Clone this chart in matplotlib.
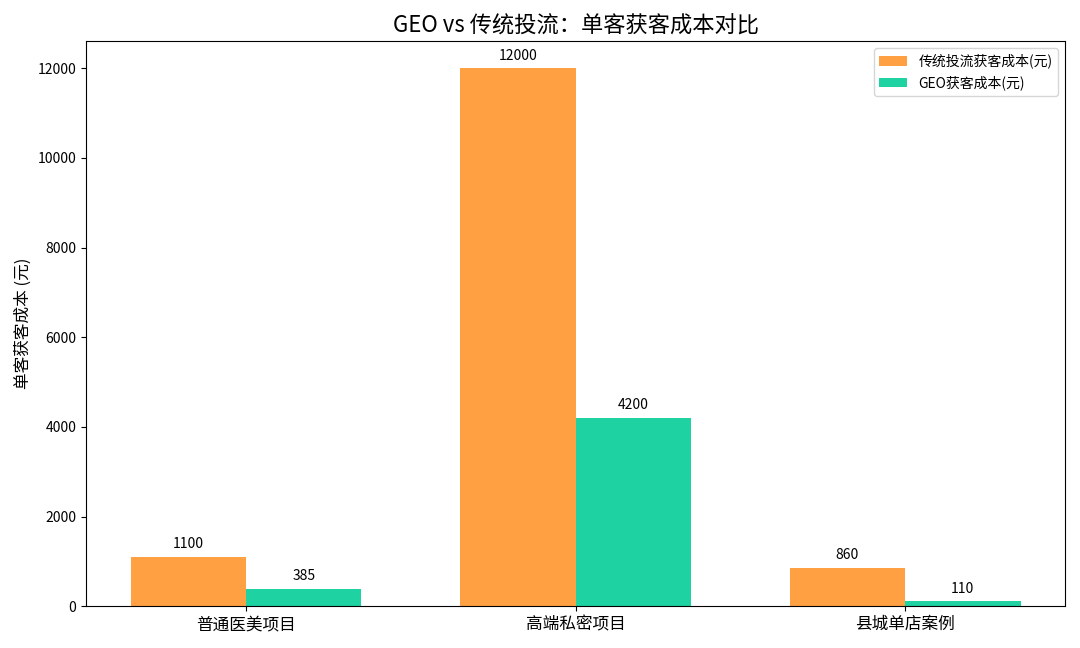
import matplotlib
matplotlib.use('Agg')
import matplotlib.pyplot as plt
import numpy as np

plt.rcParams['font.family'] = ['Noto Sans CJK SC', 'DejaVu Sans']

categories = ['普通医美项目', '高端私密项目', '县城单店案例']
traditional = [1100, 12000, 860]
geo = [385, 4200, 110]

fig, ax = plt.subplots(figsize=(10.8, 6.48), dpi=100)
x = np.arange(len(categories))
w = 0.35
b1 = ax.bar(x - w/2, traditional, w, color='#FFA043', label='传统投流获客成本(元)')
b2 = ax.bar(x + w/2, geo, w, color='#1ED2A2', label='GEO获客成本(元)')
for bars in (b1, b2):
    for r in bars:
        ax.annotate(f'{int(r.get_height())}', (r.get_x() + r.get_width()/2, r.get_height()),
                    xytext=(0, 4), textcoords='offset points', ha='center', va='bottom', fontsize=10)
ax.set_xticks(x)
ax.set_xticklabels(categories, fontsize=12)
ax.set_ylabel('单客获客成本 (元)', fontsize=12)
ax.set_title('GEO vs 传统投流：单客获客成本对比', fontsize=16)
ax.legend(loc='upper right')
plt.tight_layout()
fig.savefig('out.png', dpi=100)
